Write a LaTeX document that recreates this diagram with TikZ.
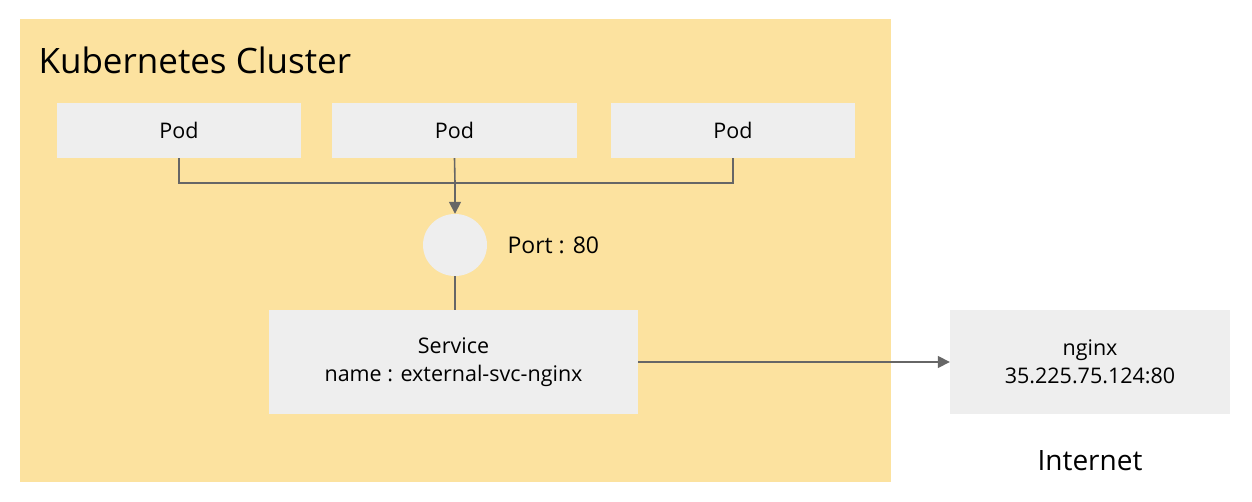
\documentclass[tikz,border=0pt]{standalone}
\usepackage{fontspec}
\setmainfont{Open Sans}
\usetikzlibrary{arrows.meta,shapes.geometric}
\definecolor{clusterbg}{HTML}{FCE29F}
\definecolor{boxbg}{HTML}{EEEEEE}
\definecolor{linegray}{HTML}{666666}
\tikzset{
  box/.style={fill=boxbg, draw=none, inner sep=0pt, align=center, font=\fontsize{21.5}{28}\selectfont},
  conn/.style={draw=linegray, line width=1.6pt},
  arr/.style={conn, -{Triangle[length=12pt,width=12pt]}},
}
\begin{document}
\begin{tikzpicture}[x=1pt,y=-1pt]
\useasboundingbox (0,0) rectangle (1252,502);
\fill[white] (0,0) rectangle (1252,502);
\fill[clusterbg] (20,19) rectangle (891,482);
\node[anchor=west, font=\fontsize{35}{40}\selectfont] (title) at (35,60) {Kubernetes Cluster};
\node[box, minimum width=244pt, minimum height=55pt] (pod1) at (179,130.5) {Pod};
\node[box, minimum width=245pt, minimum height=55pt] (pod2) at (454.5,130.5) {Pod};
\node[box, minimum width=244pt, minimum height=55pt] (pod3) at (733,130.5) {Pod};
\node[fill=boxbg, ellipse, minimum width=64pt, minimum height=62pt, inner sep=0pt] (port) at (455,245) {};
\node[anchor=west, font=\fontsize{23}{28}\selectfont] (portlbl) at (504,245) {Port : 80};
\node[box, minimum width=369pt, minimum height=104pt] (svc) at (453.5,362) {Service\\name : external-svc-nginx};
\node[box, minimum width=280pt, minimum height=104pt] (nginx) at (1090,362) {nginx\\35.225.75.124:80};
\node[font=\fontsize{28}{32}\selectfont] (inet) at (1090,461) {Internet};
\coordinate (j) at (455,183);
\draw[conn] (pod1.south) |- (j);
\draw[conn] (pod3.south) |- (j);
\draw[conn] (pod2.south) -- (j);
\draw[arr] (j) -- (port.north);
\draw[conn] (port.south) -- (svc.north -| port.south);
\draw[arr] (svc.east) -- (nginx.west);
\end{tikzpicture}
\end{document}
